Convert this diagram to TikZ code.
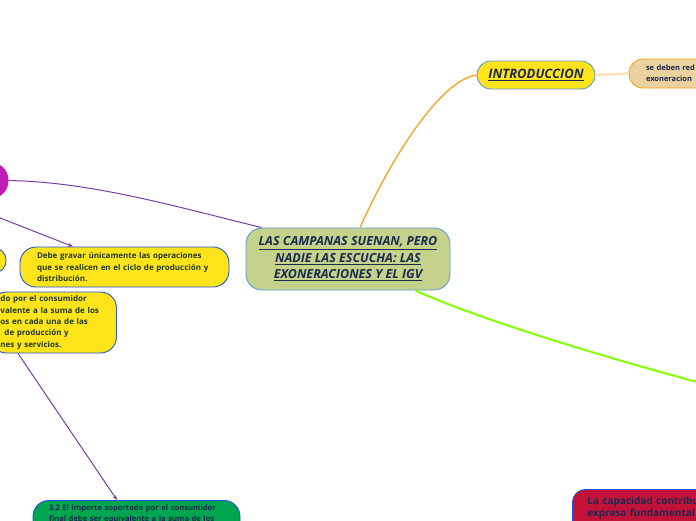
\documentclass[tikz,border=0pt]{standalone}
\usepackage{fontspec}
\setmainfont{Open Sans}
\usetikzlibrary{arrows.meta, positioning, calc}
\definecolor{mmInk}{HTML}{1C2A4E}
\definecolor{mmLeaf}{HTML}{1F3A22}
\definecolor{mmYellow}{HTML}{FFE41C}
\definecolor{mmOlive}{HTML}{C4D28C}
\definecolor{mmSky}{HTML}{5B9BD5}
\definecolor{mmBlue}{HTML}{2255D8}
\definecolor{mmTan}{HTML}{EBD39F}
\definecolor{mmOrange}{HTML}{F5A21E}
\definecolor{mmPeach}{HTML}{FFE2B8}
\definecolor{mmPurple}{HTML}{7B3DA6}
\definecolor{mmMagenta}{HTML}{C21BB8}
\definecolor{mmLime}{HTML}{84FF00}
\definecolor{mmGreen}{HTML}{00A550}
\definecolor{mmCrimson}{HTML}{C3123A}
\tikzset{
  topic/.style={
    draw=mmBlue, line width=0.9pt, fill=mmYellow, rounded corners=16pt,
    inner sep=0pt, align=left, text=mmLeaf,
    font=\fontsize{8}{11.3}\selectfont\bfseries
  },
  central/.style={topic, draw=mmSky, fill=mmOlive, text=mmInk, align=center,
    font=\fontsize{12.5}{16.5}\selectfont\bfseries\itshape},
  lead/.style={topic, draw=mmSky, rounded corners=14pt, align=center, text=mmInk,
    font=\fontsize{13}{16}\selectfont\bfseries\itshape},
  note/.style={topic, draw=mmOrange, fill=mmTan, rounded corners=14pt, text=mmInk,
    font=\fontsize{7.5}{11}\selectfont\bfseries},
  link/.style={line width=1pt, draw=mmPurple},
  arrowlink/.style={link, -{Stealth[length=5pt, width=4pt]}},
}
\begin{document}
\begin{tikzpicture}[x=1pt, y=-1pt]
  \useasboundingbox (0,0) rectangle (696,520);
  \clip (0,0) rectangle (696,520);
  \fill[white] (0,0) rectangle (696,520);

  \node[central, minimum width=204pt, minimum height=62pt] (root) at (348,259)
    {\underline{LAS CAMPANAS SUENAN, PERO}\\ \underline{NADIE LAS ESCUCHA: LAS}\\
     \underline{EXONERACIONES Y EL IGV}};
  \node[lead, minimum width=118pt, minimum height=28pt] (intro) at (536,75)
    {\underline{INTRODUCCION}};
  \node[note, minimum width=91pt, minimum height=29pt, text width=57pt] (reduce)
    at (674.5,73.5) {se deben red\\exoneracion};

  % left branch, cut by the border
  \node[topic, draw=mmMagenta, fill=mmMagenta, minimum width=68pt, minimum height=35pt,
        rounded corners=17pt] (hub) at (-26,180.5) {};
  \node[topic, minimum width=66pt, minimum height=25pt, rounded corners=12pt] (stub)
    at (-27,260.5) {};
  \node[topic, minimum width=209pt, minimum height=40pt, text width=175pt] (gravar)
    at (124.5,267)
    {Debe gravar únicamente las operaciones\\que se realicen en el ciclo de producción y\\distribución.};
  \node[topic, anchor=west, inner xsep=10pt, text width=106pt, minimum height=61pt] (importe)
    at (-10,322.5)
    {do por el consumidor\\valente a la suma de los\\os en cada una de las\\\hspace*{4pt}de producción y\\nes y servicios.};
  \node[topic, fill=mmGreen, text=mmInk, anchor=north, minimum width=207pt, text width=175pt,
        inner ysep=4pt, text depth=40pt, font=\fontsize{7.6}{11}\selectfont\bfseries] (suma)
    at (136.5,500)
    {\mbox{3.2 El importe soportado por el consumidor}\\\mbox{final debe ser equivalente a la suma de los}};
  \node[topic, fill=mmCrimson, text=mmInk, anchor=north west, inner xsep=15pt, inner ysep=7pt,
        text width=180pt, text depth=40pt, rounded corners=13pt,
        font=\fontsize{10}{12}\selectfont\bfseries] (capac) at (572,489)
    {La capacidad contribu\\expresa fundamental};

  \coordinate (hubfoot) at (-10,214);
  \coordinate (farright) at (720,388);

  \draw[link, draw=mmOrange, line width=1.3pt] (root.69) .. controls (390,160) and (440,80) .. (intro.west);
  \draw[link, draw=mmPeach, line width=2.5pt] (intro.east) -- (reduce.west);
  \draw[link] (hub.east) .. controls (90,182) and (170,205) .. (root.160);
  \draw[arrowlink] (hubfoot) -- ([xshift=-51.5pt]gravar.north);
  \draw[arrowlink] ([xshift=28pt]importe.south west) -- ([xshift=-19.5pt]suma.north);
  \draw[link, draw=mmLime, line width=2pt] (root.-25) .. controls (480,320) and (620,362) .. (farright);
\end{tikzpicture}
\end{document}
